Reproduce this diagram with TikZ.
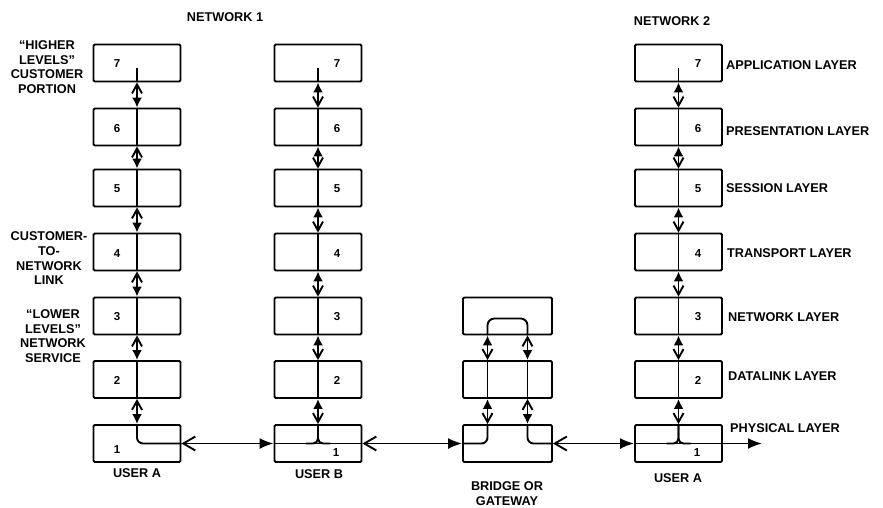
\documentclass[tikz,border=0pt]{standalone}
\usepackage{fontspec}
\setmainfont{Liberation Sans}
\usetikzlibrary{arrows.meta,calc}
\begin{document}
\begin{tikzpicture}[x=1pt,y=-1pt,
  box/.style={draw, line width=1.9pt, minimum width=87pt, minimum height=37pt, inner sep=0pt, rounded corners=1.2pt},
  num/.style={font=\fontsize{11.5}{12}\selectfont\bfseries, inner sep=0pt},
  lbl/.style={font=\fontsize{12.7}{14.7}\selectfont\bfseries, align=center, inner sep=0pt},
  wire/.style={line width=1.9pt},
  vA/.style={wire, {Straight Barb[length=9pt,width=10pt]}-{Latex[length=10pt,width=10pt]}},
  vB/.style={wire, {Latex[length=10pt,width=10pt]}-{Straight Barb[length=9pt,width=10pt]}},
  hA/.style={wire, {Straight Barb[length=12pt,width=14pt]}-{Latex[length=14pt,width=11pt]}}
]
\useasboundingbox (0,0) rectangle (883,507);

% ---------- boxes ----------
\foreach \n/\y in {7/63,6/127,5/188,4/252,3/316,2/379.5,1/443.5}{
  \node[box] (a\n) at (137,\y) {};
  \node[box] (b\n) at (318,\y) {};
  \node[box] (c\n) at (678.5,\y) {};
}
\foreach \n/\y in {3/316,2/379.5,1/443.5}{
  \node[box, minimum width=89pt] (g\n) at (507.5,\y) {};
}

% ---------- numbers ----------
\foreach \n/\y in {7/64,6/129,5/189,4/254,3/317,2/380}{
  \node[num] (an\n) at (117,\y) {\n};
  \node[num] (bn\n) at (337,\y) {\n};
  \node[num] (cn\n) at (698,\y) {\n};
}
\node[num] (an1) at (117,450) {1};
\node[num] (bn1) at (336,453) {1};
\node[num] (cn1) at (697,453) {1};

% ---------- vertical lines inside boxes ----------
\foreach \c in {a,b,c}{
  \draw[wire] ($(\c7.center)+(0,5)$) -- (\c7.south);
  \foreach \n in {6,5,4,3,2}{
    \draw[wire] (\c\n.north) -- (\c\n.south);
  }
}
% ---------- vertical connectors ----------
\foreach \u/\l in {7/6,6/5,5/4,4/3,3/2,2/1}{
  \draw[vA] (a\u.south) -- (a\l.north);
  \draw[vB] (b\u.south) -- (b\l.north);
  \draw[vB] (c\u.south) -- (c\l.north);
}

% ---------- user A (network 1) ----------
\draw[wire, rounded corners=6pt] (a1.north) |- (a1.east);
\draw[hA] (a1.east) -- (b1.west);

% ---------- user B ----------
\draw[wire] (b1.west) -- (b1.east);
\draw[wire, rounded corners=5pt] (b1.north) |- ($(b1.center)+(-12,0)$);
\draw[wire, rounded corners=5pt] (b1.north) |- ($(b1.center)+(12,0)$);
\draw[hA] (b1.east) -- (g1.west);

% ---------- bridge ----------
\draw[wire, rounded corners=7pt] ($(g3.south)+(-20,0)$) -- ($(g3.south)+(-20,-17)$) -| ($(g3.south)+(20,0)$);
\draw[vB] ($(g3.south)+(-20,0)$) -- ($(g2.north)+(-20,0)$);
\draw[vA] ($(g3.south)+(20,0)$) -- ($(g2.north)+(20,0)$);
\draw[wire] ($(g2.north)+(-20,0)$) -- ($(g2.south)+(-20,0)$);
\draw[wire] ($(g2.north)+(20,0)$) -- ($(g2.south)+(20,0)$);
\draw[vB] ($(g2.south)+(-20,0)$) -- ($(g1.north)+(-20,0)$);
\draw[vA] ($(g2.south)+(20,0)$) -- ($(g1.north)+(20,0)$);
\draw[wire, rounded corners=6pt] (g1.west) -| ($(g1.north)+(-20,0)$);
\draw[wire, rounded corners=6pt] (g1.east) -| ($(g1.north)+(20,0)$);
\draw[hA] (g1.east) -- (c1.west);

% ---------- user A (network 2) ----------
\coordinate (out) at (762,443.5);
\draw[wire] (c1.west) -- (c1.east);
\draw[wire, rounded corners=5pt] (c1.north) |- ($(c1.center)+(-12,0)$);
\draw[wire, rounded corners=5pt] (c1.north) |- ($(c1.center)+(12,0)$);
\draw[wire, -{Latex[length=14pt,width=11pt]}] (c1.east) -- (out);

% ---------- titles and captions ----------
\node[lbl] (net1) at (225,17) {NETWORK 1};
\node[lbl] (net2) at (672,21) {NETWORK 2};
\node[lbl] (hi) at (47,67) {``HIGHER\\LEVELS''\\CUSTOMER\\PORTION};
\node[lbl] (cn) at (49,258.5) {CUSTOMER-\\TO-\\NETWORK\\LINK};
\node[lbl] (lo) at (53,336) {``LOWER\\LEVELS''\\NETWORK\\SERVICE};
\node[lbl] (ua) at (137,473) {USER A};
\node[lbl] (ub) at (319,474) {USER B};
\node[lbl] (uc) at (678,478) {USER A};
\node[lbl] (bg) at (507,493.5) {BRIDGE OR\\GATEWAY};

\node[lbl, anchor=west] (l7) at (726,65) {APPLICATION LAYER};
\node[lbl, anchor=west] (l6) at (726,131) {PRESENTATION LAYER};
\node[lbl, anchor=west] (l5) at (726,188) {SESSION LAYER};
\node[lbl, anchor=west] (l4) at (727,253) {TRANSPORT LAYER};
\node[lbl, anchor=west] (l3) at (728,317) {NETWORK LAYER};
\node[lbl, anchor=west] (l2) at (728,376) {DATALINK LAYER};
\node[lbl, anchor=west] (l1) at (730,428) {PHYSICAL LAYER};
\end{tikzpicture}
\end{document}
